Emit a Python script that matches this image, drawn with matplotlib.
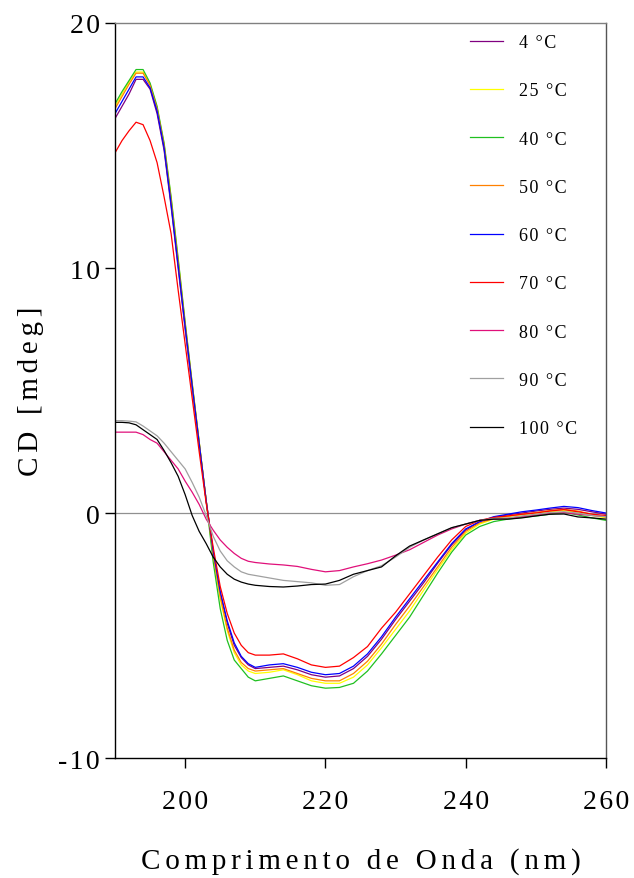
import matplotlib
matplotlib.use("Agg")
import matplotlib.pyplot as plt
from matplotlib.ticker import FuncFormatter

# wavelength grid (nm): 1 nm steps up to 210, then 2 nm
wl = list(range(190, 211)) + list(range(212, 261, 2))

c4 = [16.1, 16.6, 17.1, 17.7, 17.7, 17.3, 16.3, 14.8, 12.5, 10.0, 7.5, 5.1, 2.8, 0.5,
      -1.6, -3.3, -4.5, -5.4, -5.9, -6.2, -6.35,
      -6.3, -6.25, -6.4, -6.6, -6.7, -6.65, -6.35, -5.85, -5.15, -4.35, -3.6, -2.85, -2.05, -1.3,
      -0.7, -0.35, -0.18, -0.08, 0.0, 0.08, 0.15, 0.2, 0.15, 0.05, -0.05]
c25 = [16.6, 17.1, 17.6, 18.0, 18.0, 17.5, 16.55, 15.05, 12.85, 10.35, 7.75, 5.3, 2.9, 0.5,
       -1.75, -3.5, -4.8, -5.7, -6.2, -6.45, -6.55,
       -6.5, -6.4, -6.6, -6.85, -6.95, -6.95, -6.7, -6.2, -5.5, -4.75, -4.0, -3.15, -2.3, -1.5,
       -0.82, -0.45, -0.25, -0.15, -0.08, -0.02, 0.05, 0.1, 0.02, -0.1, -0.2]
c40 = [16.7, 17.2, 17.65, 18.1, 18.1, 17.55, 16.6, 15.1, 12.9, 10.4, 7.8, 5.3, 2.9, 0.5,
       -2.0, -3.9, -5.2, -6.0, -6.35, -6.7, -6.85,
       -6.75, -6.65, -6.85, -7.05, -7.15, -7.12, -6.95, -6.45, -5.75, -5.0, -4.25, -3.35, -2.45, -1.6,
       -0.9, -0.55, -0.35, -0.25, -0.18, -0.12, -0.05, 0.03, -0.08, -0.2, -0.3]
c50 = [16.5, 17.0, 17.5, 17.95, 17.95, 17.45, 16.5, 15.0, 12.75, 10.25, 7.7, 5.25, 2.9, 0.5,
       -1.7, -3.4, -4.7, -5.6, -6.1, -6.35, -6.45,
       -6.4, -6.35, -6.55, -6.75, -6.85, -6.85, -6.55, -6.05, -5.35, -4.55, -3.8, -3.0, -2.2, -1.4,
       -0.75, -0.4, -0.22, -0.12, -0.05, 0.02, 0.1, 0.15, 0.08, -0.05, -0.15]
c60 = [16.3, 16.8, 17.3, 17.8, 17.8, 17.35, 16.4, 14.9, 12.6, 10.1, 7.6, 5.2, 2.85, 0.5,
       -1.55, -3.2, -4.4, -5.3, -5.85, -6.15, -6.3,
       -6.2, -6.15, -6.3, -6.5, -6.6, -6.55, -6.25, -5.75, -5.05, -4.25, -3.5, -2.75, -2.0, -1.25,
       -0.65, -0.35, -0.15, -0.05, 0.05, 0.12, 0.2, 0.27, 0.22, 0.1, 0.0]
c70 = [14.7, 15.2, 15.6, 15.95, 15.85, 15.2, 14.3, 12.9, 11.4, 9.1, 6.9, 4.7, 2.5, 0.4,
       -1.4, -3.0, -4.1, -4.9, -5.4, -5.7, -5.8,
       -5.8, -5.75, -5.95, -6.2, -6.3, -6.25, -5.9, -5.45, -4.7, -4.05, -3.3, -2.55, -1.8, -1.1,
       -0.55, -0.3, -0.18, -0.12, -0.05, 0.0, 0.08, 0.14, 0.05, -0.05, -0.1]
c80 = [3.3, 3.3, 3.3, 3.3, 3.2, 3.0, 2.85, 2.5, 2.15, 1.8, 1.3, 0.85, 0.35, -0.25,
       -0.7, -1.1, -1.4, -1.65, -1.85, -1.97, -2.02,
       -2.08, -2.12, -2.18, -2.3, -2.4, -2.35, -2.2, -2.07, -1.92, -1.72, -1.5, -1.2, -0.9, -0.65,
       -0.45, -0.3, -0.25, -0.22, -0.15, -0.08, 0.0, 0.02, -0.05, -0.1, -0.15]
c90 = [3.77, 3.77, 3.75, 3.72, 3.55, 3.35, 3.15, 2.85, 2.5, 2.15, 1.8, 1.25, 0.65, -0.1,
       -0.95, -1.55, -1.95, -2.2, -2.4, -2.5, -2.55,
       -2.65, -2.75, -2.8, -2.85, -2.95, -2.92, -2.6, -2.35, -2.15, -1.8, -1.4, -1.1, -0.85, -0.6,
       -0.45, -0.3, -0.22, -0.2, -0.12, -0.05, 0.02, 0.05, 0.0, -0.1, -0.15]
c100 = [3.7, 3.7, 3.68, 3.6, 3.4, 3.2, 3.0, 2.55, 2.05, 1.5, 0.75, -0.1, -0.75, -1.25,
        -1.8, -2.2, -2.5, -2.7, -2.82, -2.9, -2.95,
        -3.0, -3.02, -2.98, -2.92, -2.9, -2.75, -2.5, -2.35, -2.2, -1.75, -1.35, -1.1, -0.85, -0.6,
        -0.45, -0.3, -0.25, -0.25, -0.2, -0.12, -0.05, -0.04, -0.16, -0.2, -0.25]

temps = ["4", "25", "40", "50", "60", "70", "80", "90", "100"]
series = [c4, c25, c40, c50, c60, c70, c80, c90, c100]
colors = ["#800080", "#FFFF00", "#20C020", "#FF8000", "#0000FF",
          "#FF0000", "#E0107A", "#A0A0A0", "#000000"]

xticks = [200, 220, 240, 260]
yticks = [-10, 0, 10, 20]

plt.rcParams['font.family'] = ['Liberation Serif', 'DejaVu Serif']


def spaced(s, n=1):
    # wide letter spacing like the original
    return ("\u200a" * n).join(s)


fig = plt.figure(figsize=(6.34, 8.79), dpi=100)
ax = fig.add_axes([0.1814, 0.1365, 0.7744, 0.8362])

ax.axhline(0, color="#909090", lw=0.9, zorder=1)
for t, y, c in zip(temps, series, colors):
    ax.plot(wl, y, color=c, lw=0.9, label=spaced(t + " °C"))

ax.set_xlim(190, 260)
ax.set_ylim(-10, 20)
ax.set_xticks(xticks)
ax.set_yticks(yticks)
ax.xaxis.set_major_formatter(FuncFormatter(lambda v, p: spaced(str(int(v)))))
ax.yaxis.set_major_formatter(FuncFormatter(lambda v, p: spaced(str(int(v)))))
ax.tick_params(axis='x', direction='out', length=7, width=1, labelsize=20, pad=15)
ax.tick_params(axis='y', direction='out', length=7, width=1, labelsize=20, pad=4)

ax.spines['left'].set_color('black')
ax.spines['bottom'].set_color('black')
ax.spines['top'].set_color('#808080')
ax.spines['right'].set_color('#555555')
for s in ax.spines.values():
    s.set_linewidth(1.0)

ax.set_xlabel(spaced("Comprimento de Onda (nm)", 2), fontsize=21, labelpad=24)
ax.set_ylabel(spaced("CD [mdeg]", 2), fontsize=21, labelpad=10)

ax.legend(loc='upper right', bbox_to_anchor=(0.975, 1.007), frameon=False,
          fontsize=13, handlelength=1.85, handletextpad=0.9, labelspacing=1.73)

fig.savefig("out.png", dpi=100)
